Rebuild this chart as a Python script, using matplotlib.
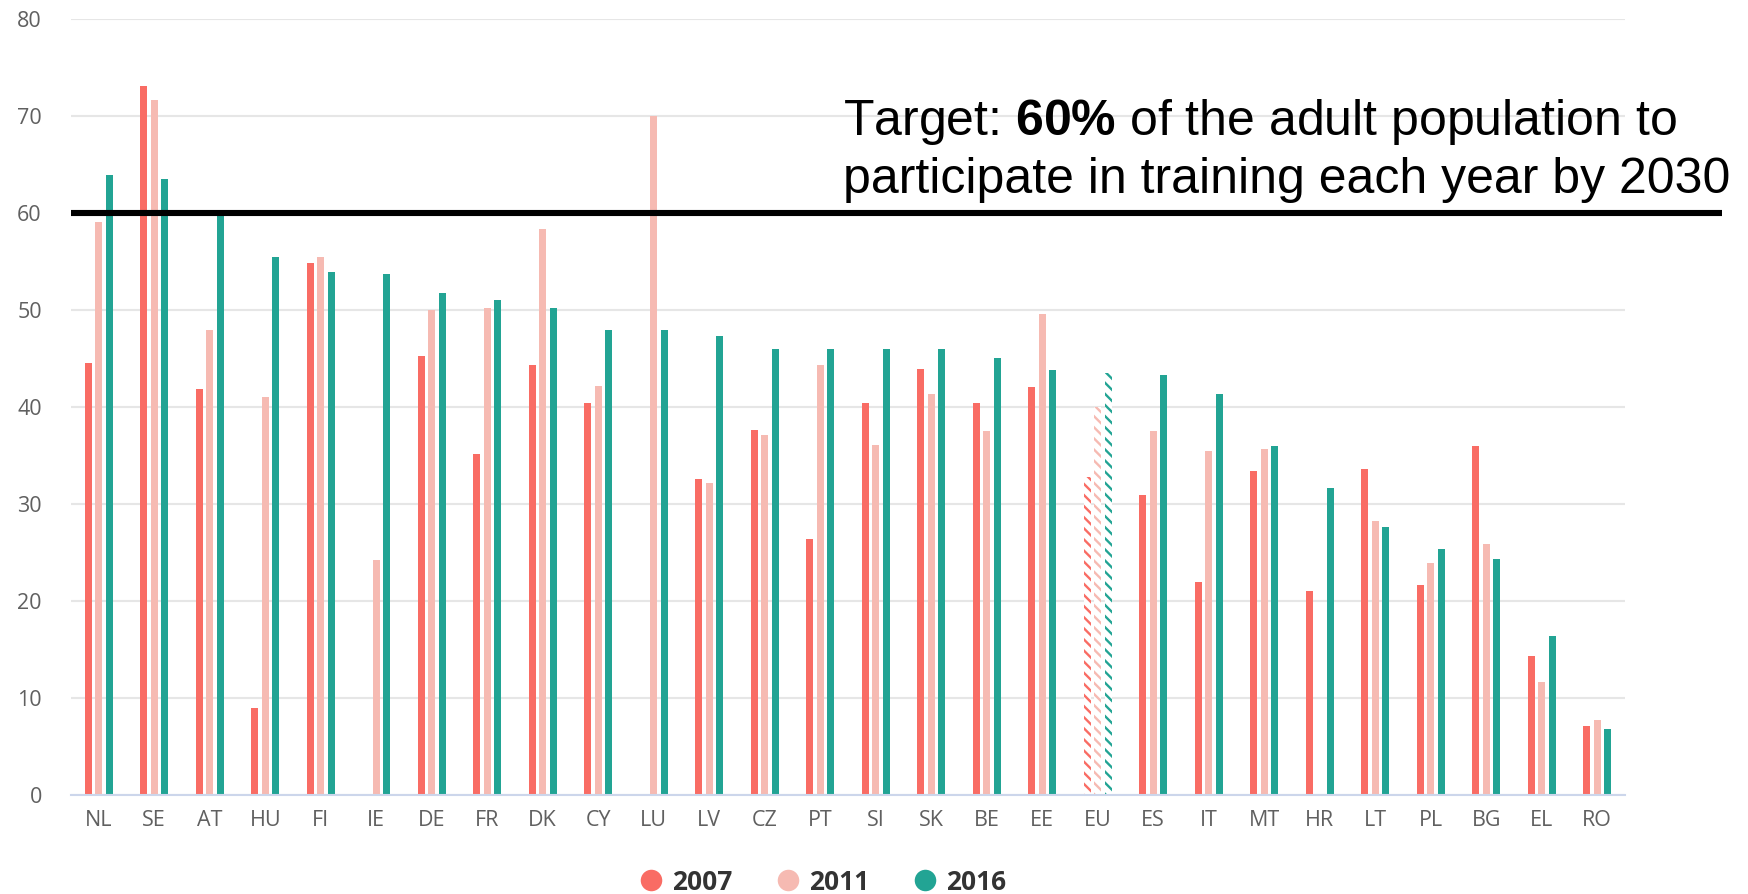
import numpy as np
import matplotlib
matplotlib.use('Agg')
import matplotlib.pyplot as plt
import matplotlib.transforms as mtransforms
from matplotlib.lines import Line2D

# Data (share of adults in training, %)
countries = ['NL', 'SE', 'AT', 'HU', 'FI', 'IE', 'DE', 'FR', 'DK', 'CY', 'LU', 'LV', 'CZ', 'PT',
             'SI', 'SK', 'BE', 'EE', 'EU', 'ES', 'IT', 'MT', 'HR', 'LT', 'PL', 'BG', 'EL', 'RO']
years = ['2007', '2011', '2016']
v2007 = [44.5, 73.1, 41.8, 9.0, 54.8, np.nan, 45.2, 35.1, 44.3, 40.4, np.nan, 32.6, 37.6, 26.4,
         40.4, 43.9, 40.4, 42.0, 32.8, 30.9, 22.0, 33.4, 21.0, 33.6, 21.6, 36.0, 14.3, 7.1]
v2011 = [59.1, 71.6, 47.9, 41.0, 55.4, 24.2, 50.0, 50.2, 58.3, 42.1, 70.0, 32.2, 37.1, 44.3,
         36.1, 41.3, 37.5, 49.6, 40.0, 37.5, 35.4, 35.7, np.nan, 28.2, 23.9, 25.9, 11.6, 7.7]
v2016 = [63.9, 63.5, 59.8, 55.4, 53.9, 53.7, 51.7, 51.0, 50.2, 47.9, 47.9, 47.3, 46.0, 46.0,
         46.0, 46.0, 45.0, 43.8, 43.5, 43.3, 41.3, 36.0, 31.6, 27.6, 25.3, 24.3, 16.4, 6.8]
target = 60
hatched_cat = 'EU'

colors = ['#F96C64', '#F6BAB2', '#22A494']

plt.rcParams['mathtext.fontset'] = 'custom'
plt.rcParams['mathtext.rm'] = 'Liberation Sans'
plt.rcParams['mathtext.bf'] = 'Liberation Sans:bold'
plt.rcParams['hatch.linewidth'] = 1.7

W, H = 1748, 894
fig = plt.figure(figsize=(W / 100, H / 100), dpi=100)
ax = fig.add_axes([71 / W, 1 - 795 / H, (1625 - 71) / W, (795 - 18.7) / H])

x = np.arange(len(countries))
offsets = [-0.19, 0.0, 0.19]
bw = 0.125
hatch_idx = countries.index(hatched_cat)

for vals, off, col in zip([v2007, v2011, v2016], offsets, colors):
    vals = np.array(vals, dtype=float)
    mask = np.ones(len(vals), bool)
    mask[hatch_idx] = False
    ax.bar(x[mask] + off, vals[mask], width=bw, color=col, linewidth=0, zorder=3)
    # EU average drawn with stripes
    ax.bar(x[hatch_idx] + off, vals[hatch_idx], width=bw, facecolor='white',
           edgecolor=col, hatch='\\\\\\', linewidth=0, zorder=3)

ax.set_xlim(-0.5, len(countries) - 0.5)
ax.set_ylim(0, 80)
ax.set_yticks(np.arange(0, 81, 10))
ax.set_xticks(x)
ax.set_xticklabels(countries)
ax.grid(axis='y', color='#E6E6E6', linewidth=1.5, zorder=0)
for s in ['top', 'right', 'left']:
    ax.spines[s].set_visible(False)
ax.spines['bottom'].set_color('#CCD6EB')
ax.spines['bottom'].set_linewidth(1.5)
ax.spines['bottom'].set_zorder(4)
ax.tick_params(axis='both', length=0, labelcolor='#606060', labelsize=15.5)
ax.tick_params(axis='x', pad=11)
ax.tick_params(axis='y', pad=21)
for lab in ax.get_xticklabels() + ax.get_yticklabels():
    lab.set_fontfamily('Open Sans')

# target line, runs past the plot area
trans = mtransforms.blended_transform_factory(ax.transAxes, ax.transData)
ax.plot([0, (1722 - 71) / (1625 - 71)], [target, target], color='black', lw=4.4,
        transform=trans, clip_on=False, zorder=6, solid_capstyle='butt')

fig.text(843 / W, 1 - 135 / H, r'Target: $\mathbf{60\%}$ of the adult population to',
         fontsize=36, family='Liberation Sans', va='baseline', ha='left')
fig.text(843 / W, 1 - 193 / H, 'participate in training each year by 2030',
         fontsize=36, family='Liberation Sans', va='baseline', ha='left')

handles = [Line2D([], [], marker='o', linestyle='none', markersize=15.5, markerfacecolor=c,
                  markeredgewidth=0) for c in colors]
fig.legend(handles, years, loc='center', bbox_to_anchor=(822 / W, 1 - 882 / H), ncol=3,
           frameon=False, handletextpad=0.3, columnspacing=1.6, handlelength=1.0,
           prop={'family': 'Open Sans', 'weight': 'bold', 'size': 19}, labelcolor='#333333')

fig.savefig('out.png', dpi=100, facecolor='white')
